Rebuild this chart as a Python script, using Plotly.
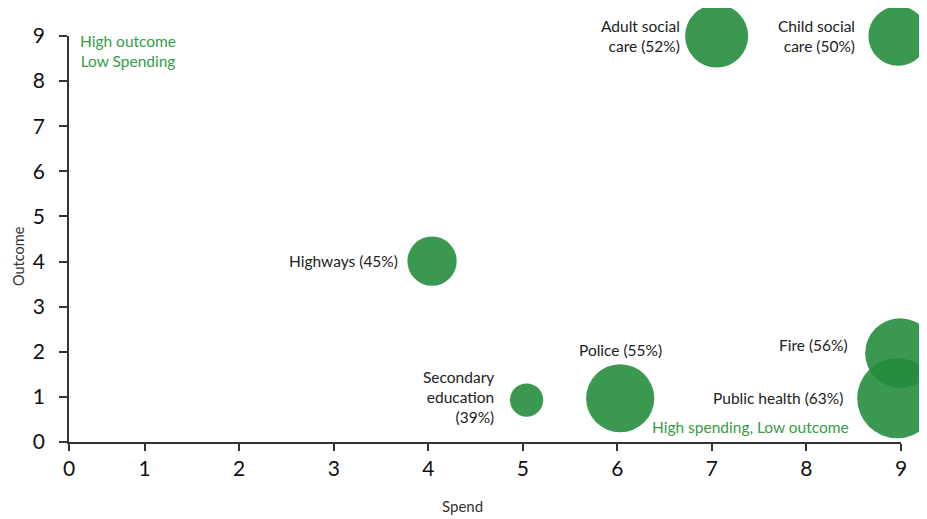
import plotly.graph_objects as go
import math

# ---- data ----
services = ["Adult social care", "Child social care", "Highways", "Secondary education",
            "Police", "Fire", "Public health"]
label_text = ["Adult social<br>care (52%)", "Child social<br>care (50%)", "Highways (45%)",
              "Secondary<br>education<br>(39%)", "Police (55%)", "Fire (56%)", "Public health (63%)"]
spend = [7.05, 8.97, 4.04, 5.04, 6.03, 8.99, 8.96]
outcome = [9.0, 9.0, 4.01, 0.93, 0.97, 1.97, 0.97]
share_pct = [52, 50, 45, 39, 55, 56, 63]

x_tickvals = [0.2, 1, 2, 3, 4, 5, 6, 7, 8, 9]
x_ticktext = ["0", "1", "2", "3", "4", "5", "6", "7", "8", "9"]
y_tickvals = [0, 1, 2, 3, 4, 5, 6, 7, 8, 9]

# ---- styles ----
FONT = "Lato"
GREEN = "rgb(35,139,60)"
TEXT_GREEN = "rgb(56,155,72)"
AXIS = "#333333"
LBL = 15.5
diam = [2 * math.sqrt(55.3 * (p - 34.0)) for p in share_pct]

# label offsets (px) relative to bubble centre: (xanchor, xshift, yshift)
label_pos = [("right", -35, 0), ("right", -41, 0), ("right", -32, 0), ("right", -31, 3),
             ("center", 0, 48.5), ("right", -50, 8), ("right", -52, 0.5)]

# page body has an 8px margin: figure is drawn 8px in from the window's top-left
OFF = 8
VW, VH = 927, 519
W, H = VW - OFF, VH - OFF
ml, mr, mt, mb = 69 - OFF, 26, 36 - OFF, 77
pw, ph = W - ml - mr, H - mt - mb


def to_paper(vx, vy):
    """window pixel -> plot-area paper coords"""
    fx, fy = vx - OFF, vy - OFF
    return (fx - ml) / pw, 1 - (fy - mt) / ph


fig = go.Figure()
fig.add_trace(go.Scatter(
    x=spend, y=outcome, mode="markers",
    marker=dict(size=diam, sizemode="diameter", color=GREEN, opacity=0.89, line=dict(width=0)),
    cliponaxis=False, hoverinfo="text", hovertext=services, showlegend=False,
))

annotations = []
for xv, yv, t, (anc, xs, ys) in zip(spend, outcome, label_text, label_pos):
    annotations.append(dict(x=xv, y=yv, xref="x", yref="y", text=t, showarrow=False,
                            xanchor=anc, yanchor="middle", align="right" if anc == "right" else "center",
                            xshift=xs, yshift=ys, font=dict(family=FONT, size=LBL, color="#222")))

px, py = to_paper(128, 51)
annotations.append(dict(x=px, y=py, xref="paper", yref="paper",
                        text="High outcome<br>Low Spending", showarrow=False,
                        xanchor="center", yanchor="middle", align="center",
                        font=dict(family=FONT, size=15.5, color=TEXT_GREEN)))
px, py = to_paper(851, 427)
annotations.append(dict(x=px, y=py, xref="paper", yref="paper",
                        text="High spending, Low outcome", showarrow=False,
                        xanchor="right", yanchor="middle",
                        font=dict(family=FONT, size=15.5, color=TEXT_GREEN)))
# axis titles
px, py = to_paper(462, 506)
annotations.append(dict(x=px, y=py, xref="paper", yref="paper",
                        text="Spend", showarrow=False, xanchor="center", yanchor="middle",
                        font=dict(family=FONT, size=15, color="#333")))
px, py = to_paper(18, 256)
annotations.append(dict(x=px, y=py, xref="paper", yref="paper",
                        text="Outcome", showarrow=False, xanchor="center", yanchor="middle",
                        textangle=-90, font=dict(family=FONT, size=14.5, color="#333")))

fig.update_layout(
    width=W, height=H,
    margin=dict(l=ml, r=mr, t=mt, b=mb, autoexpand=False),
    plot_bgcolor="white", paper_bgcolor="white",
    font=dict(family=FONT, color="#222"),
    annotations=annotations,
    xaxis=dict(range=[0.2, 9], tickmode="array", tickvals=x_tickvals, ticktext=x_ticktext,
               showgrid=False, zeroline=False, showline=True, linecolor=AXIS, linewidth=1.5,
               ticks="outside", ticklen=7, tickwidth=1.5, tickcolor=AXIS,
               tickfont=dict(family=FONT, size=21, color="#111"), fixedrange=True),
    yaxis=dict(range=[0, 9], tickmode="array", tickvals=y_tickvals,
               showgrid=False, zeroline=False, showline=True, linecolor=AXIS, linewidth=1.5,
               ticks="outside", ticklen=8, tickwidth=1.5, tickcolor=AXIS, ticklabelstandoff=10,
               tickfont=dict(family=FONT, size=21, color="#111"), fixedrange=True),
)

fig.write_html("out.html")
